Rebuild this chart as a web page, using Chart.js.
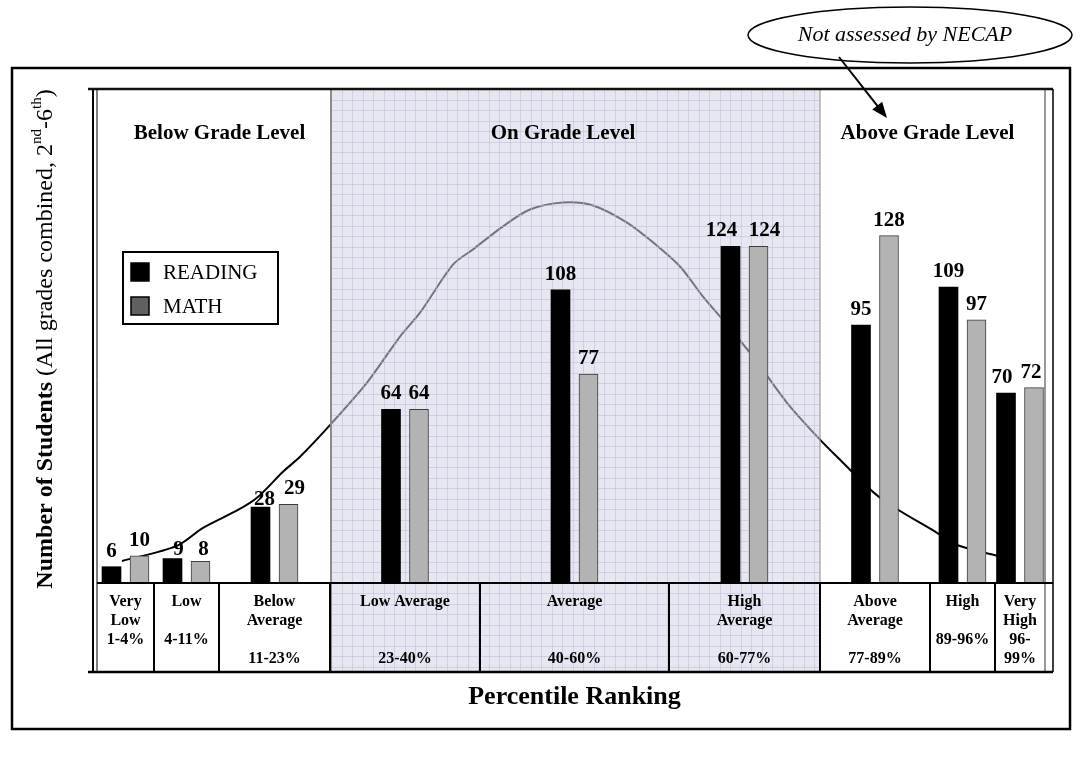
<!DOCTYPE html>
<html>
<head>
<meta charset="utf-8">
<script src="https://cdn.jsdelivr.net/npm/chart.js@4.4.1/dist/chart.umd.min.js"></script>
<style>
  html, body { margin: 0; padding: 0; background: #fff; }
  #wrap { width: 1084px; height: 777px; }
</style>
</head>
<body>
<div id="wrap"><canvas id="myChart" width="1084" height="777"></canvas></div>
<script>
// table under the bars, one entry per row ('' = empty row)
const categories = [
  ['Very', 'Low', '1-4%', ''],
  ['Low', '', '4-11%', ''],
  ['Below', 'Average', '', '11-23%'],
  ['Low Average', '', '', '23-40%'],
  ['Average', '', '', '40-60%'],
  ['High', 'Average', '', '60-77%'],
  ['Above', 'Average', '', '77-89%'],
  ['High', '', '89-96%', ''],
  ['Very', 'High', '96-', '99%']
];
const reading = [6, 9, 28, 64, 108, 124, 95, 109, 70];
const math = [10, 8, 29, 64, 77, 124, 128, 97, 72];

// bell curve (x in table units, y in students)
const curveX = [25, 80, 106, 141, 160, 186, 203, 235, 270, 303, 323, 356, 376, 406, 433,
  466, 496, 530, 556, 583, 606, 623, 656, 690, 723, 740, 783, 840, 860, 905];
const curveY = [8.1, 13.7, 20.3, 26.9, 31.4, 41.0, 46.5, 59.0, 73.8, 90.8, 99.6, 117.3, 122.9, 131.4, 137.6,
  140.2, 139.1, 132.8, 125.5, 116.6, 105.5, 98.2, 83.4, 66.4, 52.8, 46.5, 31.4, 18.5, 14.0, 9.6];

const groups = ['Below Grade Level', 'On Grade Level', 'Above Grade Level'];
const groupCols = [[0, 3], [3, 6], [6, 9]];   // first col, col after last
const yMax = 182;

// layout (not data)
const COL_W = [57, 65, 111, 150, 189, 151, 110, 65, 50];
const RIGHT_GAP = 7;
const PAIR_GAP = 14;
const TABLE_H = 89;
const ROW_Y = [19, 38, 57, 76];
const GROUP_NUDGE = [6, -12, -5];
// small shifts of the value labels so they do not collide (px)
const LABEL_DX = [[0, 6, 4, 0, 0, -9, 0, 0, -4], [0, 3, 6, 0, 0, 6, 0, 0, -3]];
const LABEL_DY = [[0, 6, 8, 0, 0, 0, 0, 0, 0], [0, 4, 0, 0, 0, 0, 0, 0, 0]];
const SERIF = '"Liberation Serif", "Times New Roman", serif';

let edges = [0];
COL_W.forEach(w => edges.push(edges[edges.length - 1] + w));
const totalW = edges[edges.length - 1] + RIGHT_GAP;
const centers = COL_W.map((w, i) => edges[i] + w / 2);

function font(size, style) {
    return (style || '') + ' ' + size + 'px ' + SERIF;
}

function line(ctx, x1, y1, x2, y2, w, c) {
    ctx.beginPath();
    ctx.moveTo(x1, y1);
    ctx.lineTo(x2, y2);
    ctx.lineWidth = w;
    ctx.strokeStyle = c || '#000';
    ctx.stroke();
}

// shaded "on grade level" area goes over the curve but under the bars
const shadePlugin = {
    id: 'shade',
    afterDatasetDraw(chart, args) {
        if (args.meta.type !== 'line') return;
        const ctx = chart.ctx;
        const ca = chart.chartArea;
        const x0 = chart.scales.x.getPixelForValue(edges[groupCols[1][0]]) + 1;
        const x1 = chart.scales.x.getPixelForValue(edges[groupCols[1][1]]);
        const bottom = ca.bottom + TABLE_H;
        ctx.save();
        ctx.fillStyle = 'rgba(212,212,230,0.55)';
        ctx.fillRect(x0, ca.top, x1 - x0, bottom - ca.top);
        ctx.beginPath();
        for (let x = x0 + 10.5; x < x1; x += 10.5) {
            ctx.moveTo(Math.round(x) + 0.5, ca.top);
            ctx.lineTo(Math.round(x) + 0.5, bottom);
        }
        for (let y = ca.top + 10.5; y < bottom; y += 10.5) {
            ctx.moveTo(x0, Math.round(y) + 0.5);
            ctx.lineTo(x1, Math.round(y) + 0.5);
        }
        ctx.lineWidth = 1;
        ctx.strokeStyle = 'rgba(185,185,215,0.5)';
        ctx.stroke();
        line(ctx, x0, ca.top, x0, bottom, 2, '#8c8c8c');
        line(ctx, x1, ca.top, x1, ca.bottom, 1, '#8c8c8c');
        ctx.restore();
    }
};

const valuePlugin = {
    id: 'values',
    afterDatasetsDraw(chart) {
        const ctx = chart.ctx;
        ctx.save();
        ctx.font = font(21, 'bold');
        ctx.fillStyle = '#000';
        ctx.textAlign = 'center';
        ctx.textBaseline = 'alphabetic';
        chart.data.datasets.forEach((ds, i) => {
            const meta = chart.getDatasetMeta(i);
            if (meta.type !== 'bar') return;
            meta.data.forEach((el, j) => {
                ctx.fillText(String(ds.data[j].y), el.x + LABEL_DX[i][j], el.y - 10 + LABEL_DY[i][j]);
            });
        });
        ctx.restore();
    }
};

const framePlugin = {
    id: 'frame',
    beforeDraw(chart) {
        const ctx = chart.ctx;
        ctx.save();
        ctx.fillStyle = '#fff';
        ctx.fillRect(0, 0, chart.width, chart.height);
        ctx.restore();
    },
    afterDraw(chart) {
        const ctx = chart.ctx;
        const ca = chart.chartArea;
        const xs = chart.scales.x;
        const tb = ca.bottom + TABLE_H;
        ctx.save();

        // outer box
        ctx.lineWidth = 2.5;
        ctx.strokeStyle = '#000';
        ctx.strokeRect(12, 68, 1058, 661);

        // plot box
        line(ctx, ca.left - 9, ca.top, ca.right + 1, ca.top, 2.5, '#111');
        line(ctx, ca.left - 4, ca.top, ca.left - 4, tb, 2);
        line(ctx, ca.left, ca.top, ca.left, tb, 1);
        const xr = xs.getPixelForValue(edges[edges.length - 1]);
        line(ctx, xr, ca.top, xr, tb, 1, '#333');
        line(ctx, ca.right + 1, ca.top, ca.right + 1, tb, 1.5);

        // table
        line(ctx, ca.left, ca.bottom, ca.right + 1, ca.bottom, 2);
        line(ctx, ca.left - 9, tb, ca.right + 1, tb, 2.5);
        for (let i = 1; i < edges.length - 1; i++) {
            const x = xs.getPixelForValue(edges[i]);
            line(ctx, x, ca.bottom, x, tb, 2);
        }
        ctx.font = font(16, 'bold');
        ctx.fillStyle = '#000';
        ctx.textAlign = 'center';
        ctx.textBaseline = 'middle';
        categories.forEach((rows, i) => {
            const cx = xs.getPixelForValue(centers[i]);
            rows.forEach((t, r) => {
                if (t) ctx.fillText(t, cx, ca.bottom + ROW_Y[r]);
            });
        });

        // group headers
        ctx.font = font(21, 'bold');
        groups.forEach((g, i) => {
            const a = xs.getPixelForValue(edges[groupCols[i][0]]);
            const b = xs.getPixelForValue(edges[groupCols[i][1]]);
            ctx.fillText(g, (a + b) / 2 + GROUP_NUDGE[i], 134);
        });

        // x title
        ctx.font = font(26, 'bold');
        ctx.fillText('Percentile Ranking', (ca.left + ca.right) / 2, 697);

        // legend
        ctx.lineWidth = 2;
        ctx.strokeStyle = '#000';
        ctx.strokeRect(123, 252, 155, 72);
        ctx.font = font(21);
        ctx.textAlign = 'left';
        chart.data.datasets.forEach((ds, i) => {
            if (ds.type === 'line') return;
            const y = 263 + i * 34;
            ctx.fillStyle = ds.swatch;
            ctx.fillRect(131, y, 18, 18);
            ctx.lineWidth = 1.5;
            ctx.strokeRect(131, y, 18, 18);
            ctx.fillStyle = '#000';
            ctx.fillText(ds.label, 163, y + 10);
        });

        // y title, rotated, with superscripts
        const parts = [
            ['Number of Students', font(24, 'bold'), 0],
            [' (All grades combined, 2', font(24), 0],
            ['nd', font(15), -9],
            ['-6', font(24), 0],
            ['th', font(15), -9],
            [')', font(24), 0]
        ];
        let total = 0;
        parts.forEach(p => { ctx.font = p[1]; total += ctx.measureText(p[0]).width; });
        ctx.translate(44, 339);
        ctx.rotate(-Math.PI / 2);
        let x = -total / 2;
        ctx.textBaseline = 'middle';
        parts.forEach(p => {
            ctx.font = p[1];
            ctx.fillText(p[0], x, p[2] + 2);
            x += ctx.measureText(p[0]).width;
        });
        ctx.setTransform(1, 0, 0, 1, 0, 0);

        // callout
        ctx.beginPath();
        ctx.ellipse(910, 35, 162, 28, 0, 0, Math.PI * 2);
        ctx.lineWidth = 1.5;
        ctx.strokeStyle = '#000';
        ctx.stroke();
        ctx.font = font(22, 'italic');
        ctx.textAlign = 'center';
        ctx.textBaseline = 'middle';
        ctx.fillText('Not assessed by NECAP', 905, 35);
        const ax0 = 839, ay0 = 57, ax1 = 887, ay1 = 118;
        const ang = Math.atan2(ay1 - ay0, ax1 - ax0);
        line(ctx, ax0, ay0, ax1 - 12 * Math.cos(ang), ay1 - 12 * Math.sin(ang), 2);
        ctx.beginPath();
        ctx.moveTo(ax1, ay1);
        ctx.lineTo(ax1 - 17 * Math.cos(ang - 0.38), ay1 - 17 * Math.sin(ang - 0.38));
        ctx.lineTo(ax1 - 17 * Math.cos(ang + 0.38), ay1 - 17 * Math.sin(ang + 0.38));
        ctx.closePath();
        ctx.fillStyle = '#000';
        ctx.fill();

        ctx.restore();
    }
};

const ctx = document.getElementById('myChart').getContext('2d');
new Chart(ctx, {
    type: 'bar',
    data: {
        datasets: [
            {
                label: 'READING',
                data: reading.map((v, i) => ({ x: centers[i] - PAIR_GAP, y: v })),
                backgroundColor: '#000',
                swatch: '#000',
                borderWidth: 0,
                order: 0
            },
            {
                label: 'MATH',
                data: math.map((v, i) => ({ x: centers[i] + PAIR_GAP, y: v })),
                backgroundColor: '#b3b3b3',
                borderColor: '#3c3c3c',
                borderWidth: 1,
                swatch: '#606060',
                order: 1
            },
            {
                type: 'line',
                label: 'curve',
                data: curveX.map((x, i) => ({ x: x, y: curveY[i] })),
                borderColor: '#000',
                borderWidth: 2,
                pointRadius: 0,
                tension: 0.3,
                fill: false,
                order: 5
            }
        ]
    },
    options: {
        responsive: false,
        animation: false,
        grouped: false,
        barThickness: 19,
        layout: { padding: { left: 97, top: 89, right: 32, bottom: 194 } },
        scales: {
            x: { type: 'linear', min: 0, max: totalW, offset: false, display: false },
            y: { min: 0, max: yMax, display: false }
        },
        plugins: {
            legend: { display: false },
            tooltip: { enabled: false }
        }
    },
    plugins: [framePlugin, shadePlugin, valuePlugin]
});
</script>
</body>
</html>
